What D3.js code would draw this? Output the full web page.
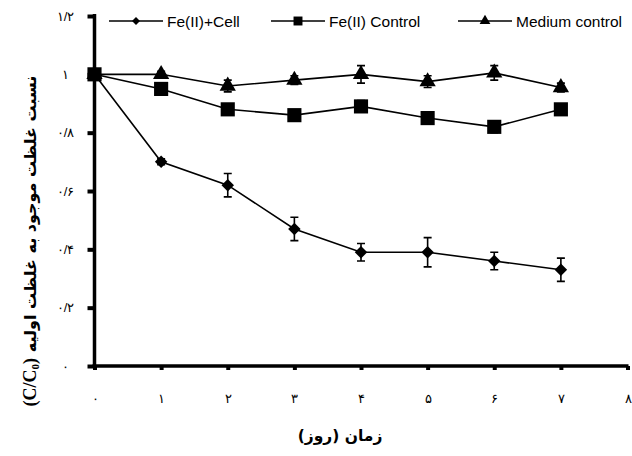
<!DOCTYPE html>
<html>
<head>
<meta charset="utf-8">
<script src="https://cdn.jsdelivr.net/npm/d3@7"></script>
<style>
  body { margin: 0; background: #fff; }
</style>
</head>
<body>
<div id="canvas"></div>
<script>
const w = 632,
    h = 456,
    plot_left = 94.5,
    plot_right = 627.5,
    plot_top = 16,
    plot_bottom = 366;

// Data
const days = [0, 1, 2, 3, 4, 5, 6, 7];
const cellValues = [1.00, 0.70, 0.62, 0.47, 0.39, 0.39, 0.36, 0.33];
const cellErrors = [0.01, 0.01, 0.04, 0.04, 0.03, 0.05, 0.03, 0.04];
const feControl = [1.00, 0.95, 0.88, 0.86, 0.89, 0.85, 0.82, 0.88];
const feErrors = [0.01, 0.01, 0.01, 0.01, 0.02, 0.01, 0.02, 0.01];
const mediumControl = [1.00, 1.00, 0.96, 0.98, 1.00, 0.975, 1.005, 0.955];
const mediumErrors = [0.01, 0.01, 0.02, 0.015, 0.03, 0.02, 0.025, 0.015];
const seriesNames = ['Fe(II)+Cell', 'Fe(II) Control', 'Medium control'];
const xTicks = [0, 1, 2, 3, 4, 5, 6, 7, 8];
const xTickLabels = ['۰', '۱', '۲', '۳', '۴', '۵', '۶', '۷', '۸'];
const yTicks = [0, 0.2, 0.4, 0.6, 0.8, 1.0, 1.2];
const yTickLabels = ['۰', '۰/۲', '۰/۴', '۰/۶', '۰/۸', '۱', '۱/۲'];

const series = [
  { name: seriesNames[0], values: cellValues, errors: cellErrors, symbol: d3.symbolDiamond2, size: 100, legendSize: 40 },
  { name: seriesNames[1], values: feControl, errors: feErrors, symbol: d3.symbolSquare, size: 200, legendSize: 80 },
  { name: seriesNames[2], values: mediumControl, errors: mediumErrors, symbol: d3.symbolTriangle, size: 115, legendSize: 50 }
];

const x = d3.scaleLinear().domain([0, 8]).range([plot_left, plot_right]);
const y = d3.scaleLinear().domain([0, 1.2]).range([plot_bottom, plot_top]);

const svg = d3.select('#canvas').append('svg')
    .attr('width', w)
    .attr('height', h)
    .style('font-family', 'DejaVu Sans');

// Axes
const xAxis = svg.append('g')
    .attr('transform', 'translate(0,' + plot_bottom + ')')
    .call(d3.axisBottom(x).tickValues(xTicks).tickFormat((d, i) => xTickLabels[i]).tickSize(4).tickPadding(24));
const yAxis = svg.append('g')
    .attr('transform', 'translate(' + plot_left + ',0)')
    .call(d3.axisLeft(y).tickValues(yTicks).tickFormat((d, i) => yTickLabels[i]).tickSize(7).tickPadding(0));

[xAxis, yAxis].forEach(a => {
  a.select('.domain').attr('stroke', '#000').attr('stroke-width', 3.5);
  a.selectAll('.tick line').attr('stroke', '#000').attr('stroke-width', 4);
  a.selectAll('.tick text').style('font-size', '13px').attr('fill', '#000');
});
xAxis.select('.domain').attr('d', 'M' + (plot_left - 2) + ',0H' + (plot_right + 1));
yAxis.select('.domain').attr('d', 'M0,' + (plot_top - 2) + 'V' + (plot_bottom + 1));
yAxis.selectAll('.tick text').attr('text-anchor', 'middle').attr('x', -29);

// Lines, error bars, markers
const line = d3.line().x((d, i) => x(days[i])).y(d => y(d));

series.forEach(s => {
  svg.append('path')
      .datum(s.values)
      .attr('d', line)
      .attr('fill', 'none')
      .attr('stroke', '#000')
      .attr('stroke-width', 1.6);

  const eb = svg.append('g');
  s.values.forEach((v, i) => {
    const cx = x(days[i]);
    const y1 = y(v + s.errors[i]), y2 = y(v - s.errors[i]);
    eb.append('path')
        .attr('d', 'M' + cx + ',' + y1 + 'V' + y2 +
              'M' + (cx - 4) + ',' + y1 + 'H' + (cx + 4) +
              'M' + (cx - 4) + ',' + y2 + 'H' + (cx + 4))
        .attr('stroke', '#000')
        .attr('stroke-width', 1.6)
        .attr('fill', 'none');
  });

  svg.append('g').selectAll('path')
      .data(s.values)
      .join('path')
      .attr('d', d3.symbol().type(s.symbol).size(s.size))
      .attr('transform', (d, i) => 'translate(' + x(days[i]) + ',' + y(d) + ')')
      .attr('fill', '#000');
});

// Legend
const legendX = [109, 271, 458];
series.forEach((s, i) => {
  const g = svg.append('g').attr('transform', 'translate(' + legendX[i] + ',21)');
  g.append('line').attr('x1', 0).attr('x2', 54).attr('y1', 0).attr('y2', 0)
      .attr('stroke', '#000').attr('stroke-width', 1.6);
  g.append('path').attr('d', d3.symbol().type(s.symbol).size(s.legendSize))
      .attr('transform', 'translate(27,0)').attr('fill', '#000');
  g.append('text').attr('x', 58).attr('y', 5.5)
      .style('font-family', 'Liberation Sans, Arial')
      .style('font-size', '15.5px')
      .text(s.name);
});

// Axis titles
svg.append('text')
    .attr('x', 340)
    .attr('y', 441)
    .attr('text-anchor', 'middle')
    .style('font-size', '15.5px')
    .style('font-weight', 'bold')
    .text('زمان (روز)');

const yt = svg.append('text')
    .attr('transform', 'translate(36,241) rotate(-90)')
    .attr('text-anchor', 'middle')
    .style('font-size', '16px')
    .style('font-weight', 'bold');
yt.append('tspan').style('font-family', 'Liberation Serif').style('font-size', '18px').text('(C/C');
yt.append('tspan').style('font-family', 'Liberation Serif').style('font-size', '11px').attr('dy', 3).text('0');
yt.append('tspan').style('font-family', 'Liberation Serif').style('font-size', '18px').attr('dy', -3).text(')');
yt.append('tspan').text(' نسبت غلظت موجود به غلظت اولیه');
</script>
</body>
</html>
